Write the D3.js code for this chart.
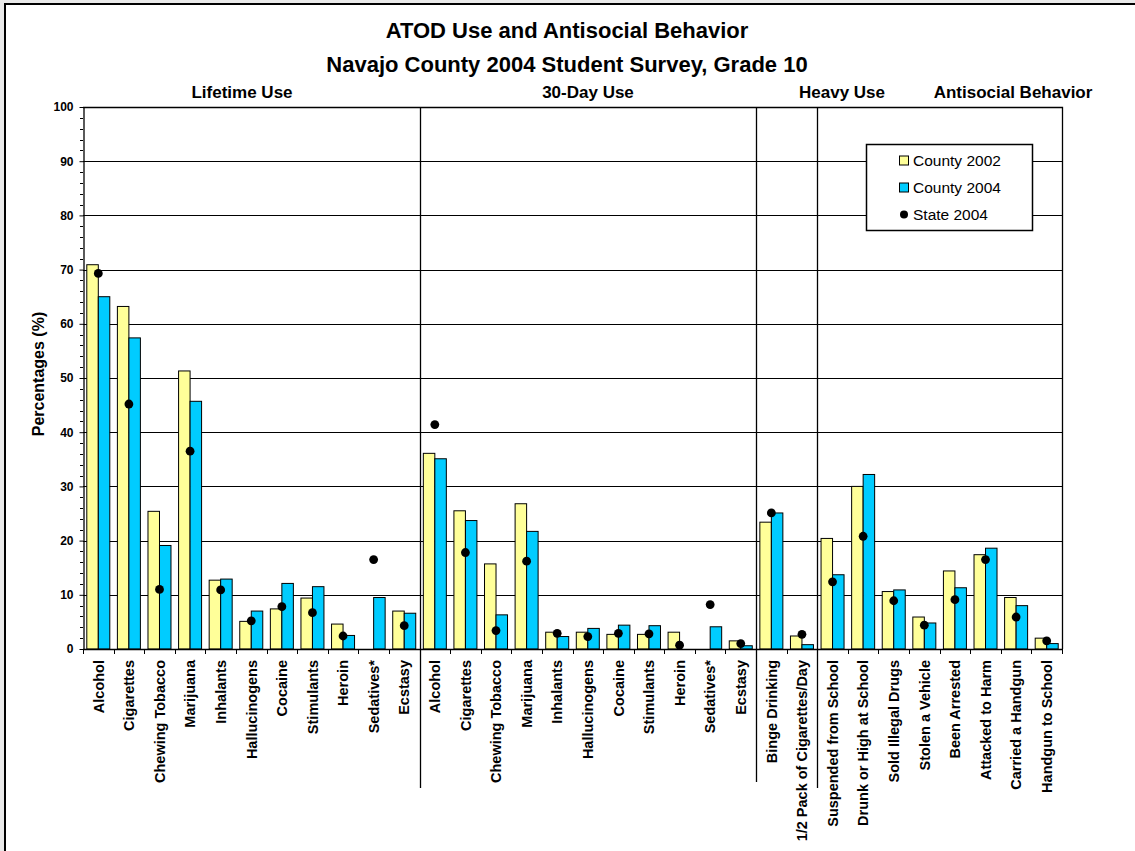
<!DOCTYPE html>
<html>
<head>
<meta charset="utf-8">
<script src="https://cdn.jsdelivr.net/npm/d3@7"></script>
<style>
  html, body { margin: 0; padding: 0; background: #e9e9e9; }
  svg { display: block; }
  text { font-family: Arial, "Liberation Sans", sans-serif; }
</style>
</head>
<body>
<svg id="chart" width="1135" height="851"></svg>
<script>
// ---------- data ----------
const titleLines = ["ATOD Use and Antisocial Behavior", "Navajo County 2004 Student Survey, Grade 10"];
const sections = ["Lifetime Use", "30-Day Use", "Heavy Use", "Antisocial Behavior"];
const sectionSizes = [11, 11, 2, 8];
const categories = [
  "Alcohol", "Cigarettes", "Chewing Tobacco", "Marijuana", "Inhalants", "Hallucinogens",
  "Cocaine", "Stimulants", "Heroin", "Sedatives*", "Ecstasy",
  "Alcohol", "Cigarettes", "Chewing Tobacco", "Marijuana", "Inhalants", "Hallucinogens",
  "Cocaine", "Stimulants", "Heroin", "Sedatives*", "Ecstasy",
  "Binge Drinking", "1/2 Pack of Cigarettes/Day",
  "Suspended from School", "Drunk or High at School", "Sold Illegal Drugs", "Stolen a Vehicle",
  "Been Arrested", "Attacked to Harm", "Carried a Handgun", "Handgun to School"
];
const county2002 = [
  70.9, 63.2, 25.4, 51.3, 12.7, 5.1, 7.4, 9.4, 4.6, null, 7.0,
  36.1, 25.5, 15.7, 26.8, 3.1, 3.1, 2.7, 2.7, 3.1, null, 1.5,
  23.4, 2.4,
  20.4, 30.0, 10.6, 5.9, 14.4, 17.4, 9.5, 2.0
];
const county2004 = [
  65.0, 57.4, 19.1, 45.7, 12.9, 7.0, 12.1, 11.5, 2.5, 9.5, 6.6,
  35.1, 23.7, 6.3, 21.7, 2.3, 3.8, 4.4, 4.3, null, 4.1, 0.6,
  25.1, 0.8,
  13.7, 32.2, 10.9, 4.8, 11.3, 18.6, 8.0, 1.0
];
const state2004 = [
  69.3, 45.2, 11.0, 36.5, 10.9, 5.2, 7.8, 6.7, 2.4, 16.5, 4.3,
  41.4, 17.8, 3.4, 16.2, 2.9, 2.3, 2.9, 2.8, 0.7, 8.2, 1.0,
  25.1, 2.7,
  12.4, 20.8, 8.9, 4.4, 9.1, 16.5, 5.9, 1.5
];
const yTicks = [0, 10, 20, 30, 40, 50, 60, 70, 80, 90, 100];
const yAxisTitle = "Percentages (%)";
const seriesNames = ["County 2002", "County 2004", "State 2004"];
const seriesColors = ["#FFFF99", "#00CCFF", "#000000"];

// ---------- layout ----------
const svg = d3.select("#chart");
const L = 83, R = 1062, T = 107, B = 649;

// outer frame
svg.append("rect").attr("x", 5).attr("y", 4).attr("width", 1140).attr("height", 860)
  .attr("fill", "#fff").attr("stroke", "#000").attr("stroke-width", 2);

const x = d3.scaleBand().domain(d3.range(categories.length)).range([L, R]).padding(0);
const inner = d3.scaleBand().domain([0, 1]).range([0, x.bandwidth()]).paddingOuter(0.33).paddingInner(0);
const y = d3.scaleLinear().domain([0, 100]).range([B, T]);

// titles
svg.append("text").attr("x", 567).attr("y", 38).attr("text-anchor", "middle")
  .attr("font-size", 22).attr("font-weight", "bold").text(titleLines[0]);
svg.append("text").attr("x", 567).attr("y", 72).attr("text-anchor", "middle")
  .attr("font-size", 22).attr("font-weight", "bold").text(titleLines[1]);

// section headers
const headerX = [242, 588, 842, 1013];
sections.forEach((s, i) => {
  svg.append("text").attr("x", headerX[i]).attr("y", 98).attr("text-anchor", "middle")
    .attr("font-size", 17).attr("font-weight", "bold").text(s);
});

// gridlines
svg.append("g").selectAll("line").data(yTicks.filter(t => t > 0 && t < 100)).join("line")
  .attr("x1", L).attr("x2", R)
  .attr("y1", d => Math.round(y(d)) + 0.5).attr("y2", d => Math.round(y(d)) + 0.5)
  .attr("stroke", "#000").attr("stroke-width", 1);

// plot border top and right
svg.append("path")
  .attr("d", `M${L},${T + 0.5}H${R + 0.5}V${B}`)
  .attr("fill", "none").attr("stroke", "#000").attr("stroke-width", 1.3);

// section dividers
let cum = 0;
const dividerEnd = [788, 782, 788];
sectionSizes.slice(0, -1).forEach((n, i) => {
  cum += n;
  const xx = Math.round(x(cum)) + 0.5;
  svg.append("line").attr("x1", xx).attr("x2", xx).attr("y1", T).attr("y2", dividerEnd[i])
    .attr("stroke", "#000").attr("stroke-width", 1.3);
});

// legend (behind bars? legend sits above gridlines)
const lg = svg.append("g");
lg.append("rect").attr("x", 866.5).attr("y", 144.5).attr("width", 166).attr("height", 86)
  .attr("fill", "#fff").attr("stroke", "#000").attr("stroke-width", 1.5);
const rowY = [160.5, 187.5, 214.5];
seriesNames.forEach((name, i) => {
  if (i < 2) {
    lg.append("rect").attr("x", 899.5).attr("y", rowY[i] - 4.5).attr("width", 9).attr("height", 9)
      .attr("fill", seriesColors[i]).attr("stroke", "#000").attr("stroke-width", 1);
  } else {
    lg.append("circle").attr("cx", 904).attr("cy", rowY[i]).attr("r", 4).attr("fill", "#000");
  }
  lg.append("text").attr("x", 913).attr("y", rowY[i]).attr("dy", "0.36em")
    .attr("font-size", 15.5).text(name);
});

// bars
const series = [county2002, county2004];
series.forEach((vals, si) => {
  svg.append("g").selectAll("rect")
    .data(vals.map((v, i) => ({ v, i })).filter(d => d.v !== null))
    .join("rect")
    .attr("x", d => x(d.i) + inner(si))
    .attr("width", inner.bandwidth())
    .attr("y", d => y(d.v))
    .attr("height", d => y(0) - y(d.v))
    .attr("fill", seriesColors[si])
    .attr("stroke", "#000").attr("stroke-width", 1);
});

// state dots
svg.append("g").selectAll("circle")
  .data(state2004.map((v, i) => ({ v, i })).filter(d => d.v !== null))
  .join("circle")
  .attr("cx", d => x(d.i) + x.bandwidth() / 2)
  .attr("cy", d => y(d.v))
  .attr("r", 4.4)
  .attr("fill", "#000");

// y axis
const yAxis = d3.axisLeft(y).tickValues(yTicks).tickSize(4).tickPadding(6).tickSizeOuter(0);
const ya = svg.append("g").attr("transform", `translate(${L + 0.5},0)`).call(yAxis);
ya.select(".domain").attr("stroke", "#000").attr("stroke-width", 1.3);
ya.selectAll(".tick text").attr("font-size", 12).attr("font-weight", "bold")
  .attr("font-family", "Arial, 'Liberation Sans', sans-serif").attr("fill", "#000");
// minor ticks
svg.append("g").selectAll("line").data(d3.range(2, 100, 2).filter(v => v % 10 !== 0)).join("line")
  .attr("x1", L - 3).attr("x2", L)
  .attr("y1", d => Math.round(y(d)) + 0.5).attr("y2", d => Math.round(y(d)) + 0.5)
  .attr("stroke", "#000").attr("stroke-width", 1);

// x axis
const xa = svg.append("g").attr("transform", `translate(0,${B})`);
xa.append("line").attr("x1", L).attr("x2", R + 0.5).attr("y1", 0.5).attr("y2", 0.5)
  .attr("stroke", "#000").attr("stroke-width", 1.5);
xa.selectAll("line.tk").data(d3.range(categories.length + 1)).join("line").attr("class", "tk")
  .attr("x1", d => Math.round(d < categories.length ? x(d) : R) + 0.5)
  .attr("x2", d => Math.round(d < categories.length ? x(d) : R) + 0.5)
  .attr("y1", 0).attr("y2", 5).attr("stroke", "#000").attr("stroke-width", 1);
xa.selectAll("text").data(categories).join("text")
  .attr("transform", (d, i) => `translate(${x(i) + x.bandwidth() / 2},11) rotate(-90)`)
  .attr("text-anchor", "end").attr("dy", "0.36em")
  .attr("font-size", 14.5).attr("font-weight", "bold").text(d => d);

// y axis title
svg.append("text").attr("transform", "translate(38,374) rotate(-90)")
  .attr("text-anchor", "middle").attr("dy", "0.36em")
  .attr("font-size", 16).attr("font-weight", "bold").text(yAxisTitle);
</script>
</body>
</html>
